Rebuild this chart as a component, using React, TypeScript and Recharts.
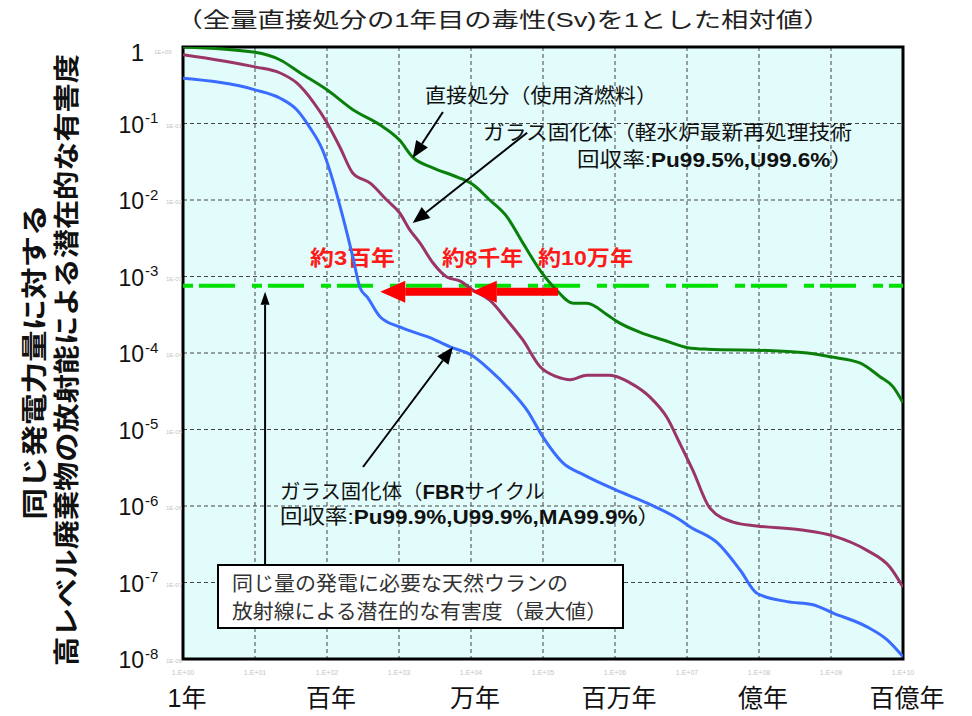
import React from "react";
import {
  LineChart,
  Line,
  XAxis,
  YAxis,
  CartesianGrid,
  ReferenceLine,
  ReferenceArea,
  Customized,
} from "recharts";

// x = log10(経過年数), y = log10(相対毒性)
const directX = [0, 1.0, 1.35, 1.63, 2.0, 2.36, 2.74, 3.01, 3.19, 3.47, 3.81, 4.03, 4.26, 4.5, 4.72, 4.96, 5.19, 5.42, 5.61, 5.89, 6.03, 6.35, 6.67, 7.01, 7.28, 8.19, 8.67, 8.99, 9.4, 9.68, 9.86, 10];
const directY = [0, -0.07, -0.17, -0.34, -0.56, -0.82, -1.02, -1.22, -1.44, -1.58, -1.7, -1.8, -2.0, -2.22, -2.56, -2.92, -3.18, -3.35, -3.35, -3.5, -3.59, -3.73, -3.83, -3.93, -3.95, -3.97, -4.0, -4.05, -4.13, -4.31, -4.44, -4.65];

const lwrX = [0, 1.0, 1.35, 1.58, 1.81, 2.0, 2.18, 2.36, 2.6, 2.83, 3.01, 3.15, 3.29, 3.47, 3.67, 3.85, 4.03, 4.26, 4.5, 4.72, 4.96, 5.19, 5.38, 5.61, 5.93, 6.21, 6.49, 6.72, 6.9, 7.08, 7.32, 7.64, 7.97, 8.57, 9.03, 9.5, 9.82, 10];
const lwrY = [-0.1, -0.26, -0.34, -0.47, -0.72, -0.99, -1.31, -1.65, -1.78, -2.0, -2.17, -2.39, -2.56, -2.82, -3.01, -3.06, -3.18, -3.31, -3.57, -3.83, -4.18, -4.31, -4.35, -4.29, -4.29, -4.39, -4.58, -4.84, -5.18, -5.53, -6.03, -6.21, -6.26, -6.31, -6.39, -6.58, -6.8, -7.06];

const fbrX = [0, 1.0, 1.35, 1.58, 1.76, 1.94, 2.08, 2.22, 2.36, 2.46, 2.56, 2.74, 3.01, 3.43, 3.71, 4.01, 4.26, 4.54, 4.78, 5.0, 5.28, 5.56, 6.01, 6.44, 6.9, 7.04, 7.42, 7.74, 7.97, 8.39, 8.75, 9.03, 9.5, 9.78, 10];
const fbrY = [-0.41, -0.56, -0.67, -0.82, -1.05, -1.35, -1.74, -2.22, -2.75, -3.15, -3.27, -3.53, -3.66, -3.8, -3.92, -4.03, -4.22, -4.48, -4.75, -5.1, -5.44, -5.59, -5.79, -5.96, -6.18, -6.27, -6.48, -6.84, -7.14, -7.25, -7.29, -7.4, -7.58, -7.75, -7.97];

// 天然ウランの潜在的有害度（最大値）
const uraniumLevel = -3.12;

const xTicks = [0, 1, 2, 3, 4, 5, 6, 7, 8, 9, 10];
const xLabelTicks = [0, 2, 4, 6, 8, 10];
const xLabels = ["1年", "百年", "万年", "百万年", "億年", "百億年"];
const yTicks = [-8, -7, -6, -5, -4, -3, -2, -1, 0];

const toPoints = (xs: number[], ys: number[]) => xs.map((x, i) => ({ x, y: ys[i] }));
const directData = toPoints(directX, directY);
const lwrData = toPoints(lwrX, lwrY);
const fbrData = toPoints(fbrX, fbrY);

const pad2 = (n: number) => String(n).padStart(2, "0");

const XTick = ({ x, y, payload }: any) => {
  const v = payload.value;
  const idx = xLabelTicks.indexOf(v);
  return (
    <g>
      <text x={x} y={y + 16} textAnchor="middle" fontSize={7} fill="#c4c4c4">
        {`1.E+${pad2(v)}`}
      </text>
      {idx >= 0 && (
        <text x={x + 4} y={y + 48} textAnchor="middle" fontSize={25} fill="#111">
          {xLabels[idx]}
        </text>
      )}
    </g>
  );
};

const YTick = ({ x, y, payload }: any) => {
  const v = payload.value;
  const tiny = v === 0 ? "1E+00" : `1E-${pad2(-v)}`;
  if (v === 0) {
    return (
      <g>
        <text x={x - 29} y={y + 5} fontSize={6} fill="#c4c4c4" dominantBaseline="central">{tiny}</text>
        <text x={x - 39} y={y + 5} textAnchor="end" fontSize={24} fill="#111" dominantBaseline="central">1</text>
      </g>
    );
  }
  return (
    <g>
      <text x={x - 17} y={y + 2} fontSize={6} fill="#c4c4c4" dominantBaseline="central">{tiny}</text>
      <text x={x - 39} y={y + 1} textAnchor="end" fontSize={23} fill="#111" dominantBaseline="central">10</text>
      <text x={x - 38} y={y - 6} fontSize={15} fill="#111" dominantBaseline="central">{`-${-v}`}</text>
    </g>
  );
};

const arrowShape = (color: string, width: number, headLen: number, headW: number) => (p: any) => {
  const { x1, y1, x2, y2 } = p;
  const dx = x2 - x1;
  const dy = y2 - y1;
  const len = Math.hypot(dx, dy) || 1;
  const ux = dx / len;
  const uy = dy / len;
  const bx = x2 - ux * headLen;
  const by = y2 - uy * headLen;
  const px = -uy * headW / 2;
  const py = ux * headW / 2;
  return (
    <g>
      <line x1={x1} y1={y1} x2={bx} y2={by} stroke={color} strokeWidth={width} />
      <polygon points={`${x2},${y2} ${bx + px},${by + py} ${bx - px},${by - py}`} fill={color} />
    </g>
  );
};

const Overlay = () => (
  <g>
    {/* title */}
    <text x={503} y={19} textAnchor="middle" dominantBaseline="central" fontSize={21} fill="#222" textLength={655} lengthAdjust="spacingAndGlyphs">
      （全量直接処分の1年目の毒性(Sv)を1とした相対値）
    </text>

    {/* y axis title */}
    <text transform="translate(35,362) rotate(-90)" textAnchor="middle" dominantBaseline="central" fontSize={26} fontWeight="bold" fill="#111" textLength={315} lengthAdjust="spacingAndGlyphs">
      同じ発電力量に対する
    </text>
    <text transform="translate(67,360) rotate(-90)" textAnchor="middle" dominantBaseline="central" fontSize={26} fontWeight="bold" fill="#111" textLength={612} lengthAdjust="spacingAndGlyphs">
      高レベル廃棄物の放射能による潜在的な有害度
    </text>

    {/* series annotations */}
    <text x={425} y={96} dominantBaseline="central" fontSize={20} fill="#111" textLength={232} lengthAdjust="spacingAndGlyphs">
      直接処分（使用済燃料）
    </text>
    <text x={483} y={133} dominantBaseline="central" fontSize={20} fill="#111" textLength={369} lengthAdjust="spacingAndGlyphs">
      ガラス固化体（軽水炉最新再処理技術
    </text>
    <text x={577} y={160} dominantBaseline="central" fontSize={20} fill="#111" textLength={276} lengthAdjust="spacingAndGlyphs">
      回収率:<tspan fontWeight="bold">Pu99.5%,U99.6%</tspan>）
    </text>
    <text x={280} y={492} dominantBaseline="central" fontSize={20} fill="#111" textLength={265} lengthAdjust="spacingAndGlyphs">
      ガラス固化体（<tspan fontWeight="bold">FBR</tspan>サイクル
    </text>
    <text x={280} y={517} dominantBaseline="central" fontSize={20} fill="#111" textLength={380} lengthAdjust="spacingAndGlyphs">
      回収率:<tspan fontWeight="bold">Pu99.9%,U99.9%,MA99.9%</tspan>）
    </text>

    {/* red period labels */}
    <text x={310} y={257} dominantBaseline="central" fontSize={21} fontWeight="bold" fill="#ff1a1a" textLength={85} lengthAdjust="spacingAndGlyphs">約3百年</text>
    <text x={442} y={257} dominantBaseline="central" fontSize={21} fontWeight="bold" fill="#ff1a1a" textLength={81} lengthAdjust="spacingAndGlyphs">約8千年</text>
    <text x={538} y={257} dominantBaseline="central" fontSize={21} fontWeight="bold" fill="#ff1a1a" textLength={95} lengthAdjust="spacingAndGlyphs">約10万年</text>

    {/* natural uranium box */}
    <rect x={218} y={565} width={405} height={63} fill="#fff" stroke="#000" strokeWidth={2} />
    <text x={232} y={584} dominantBaseline="central" fontSize={20} fill="#333" textLength={336} lengthAdjust="spacingAndGlyphs">
      同じ量の発電に必要な天然ウランの
    </text>
    <text x={232} y={612} dominantBaseline="central" fontSize={20} fill="#333" textLength={375} lengthAdjust="spacingAndGlyphs">
      放射線による潜在的な有害度（最大値）
    </text>
  </g>
);

export default function App() {
  return (
    <div
      style={{
        position: "absolute",
        left: 0,
        top: 0,
        width: 972,
        height: 716,
        background: "#fff",
        fontFamily: "'Liberation Sans', 'Noto Sans CJK JP', sans-serif",
      }}
    >
      <LineChart width={972} height={716} margin={{ top: 47, right: 69, bottom: 0, left: 0 }}>
        <CartesianGrid stroke="#444" strokeDasharray="4 3" fill="#e2fcfc" fillOpacity={1} />
        <XAxis
          type="number"
          dataKey="x"
          domain={[0, 10]}
          ticks={xTicks}
          height={57}
          axisLine={false}
          tickLine={false}
          tickSize={0}
          tickMargin={0}
          tick={<XTick />}
          allowDataOverflow
        />
        <YAxis
          type="number"
          dataKey="y"
          domain={[-8, 0]}
          ticks={yTicks}
          width={183}
          axisLine={false}
          tickLine={false}
          tickSize={0}
          tickMargin={0}
          tick={<YTick />}
          allowDataOverflow
        />
        <ReferenceLine y={uraniumLevel} stroke="#00e000" strokeWidth={4} strokeDasharray="10 6 36 17" />
        <Line data={directData} dataKey="y" type="monotone" stroke="#0a800a" strokeWidth={3} dot={false} isAnimationActive={false} />
        <Line data={lwrData} dataKey="y" type="monotone" stroke="#9b3467" strokeWidth={3} dot={false} isAnimationActive={false} />
        <Line data={fbrData} dataKey="y" type="monotone" stroke="#3a6cff" strokeWidth={3} dot={false} isAnimationActive={false} />

        {/* red arrows */}
        <ReferenceLine segment={[{ x: 5.21, y: -3.2 }, { x: 4.01, y: -3.2 }]} shape={arrowShape("#ff0000", 8, 25, 22)} />
        <ReferenceLine segment={[{ x: 4.01, y: -3.2 }, { x: 2.74, y: -3.2 }]} shape={arrowShape("#ff0000", 8, 25, 22)} />

        {/* black pointer arrows */}
        <ReferenceLine segment={[{ x: 3.61, y: -0.85 }, { x: 3.19, y: -1.45 }]} shape={arrowShape("#000", 2, 17, 14)} />
        <ReferenceLine segment={[{ x: 4.78, y: -1.12 }, { x: 3.19, y: -2.3 }]} shape={arrowShape("#000", 2, 17, 14)} />
        <ReferenceLine segment={[{ x: 2.5, y: -5.49 }, { x: 3.75, y: -3.92 }]} shape={arrowShape("#000", 2, 17, 14)} />
        <ReferenceLine segment={[{ x: 1.14, y: -6.78 }, { x: 1.14, y: -3.2 }]} shape={arrowShape("#000", 2, 13, 9)} />

        <ReferenceArea x1={0} x2={10} y1={-8} y2={0} fill="none" fillOpacity={0} stroke="#000" strokeWidth={3} />
        <Customized component={<Overlay />} />
      </LineChart>
    </div>
  );
}
